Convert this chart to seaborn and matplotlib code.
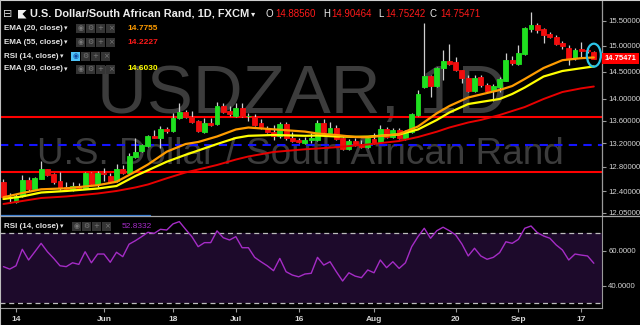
import numpy as np
import pandas as pd
import matplotlib
matplotlib.use("Agg")
import matplotlib.pyplot as plt
import matplotlib.transforms as mtransforms
from matplotlib.patches import Rectangle, Ellipse, Polygon
from matplotlib.lines import Line2D
from matplotlib.ticker import FixedLocator, NullLocator, FuncFormatter
import seaborn as sns

# ---------------- data ----------------
DATES = pd.bdate_range("2018-05-10", "2018-09-19")

OPEN = [12.553, 12.300, 12.228, 12.320, 12.580, 12.430, 12.600, 12.760, 12.675, 12.565,
        12.460, 12.417, 12.482, 12.455, 12.690, 12.510, 12.700, 12.645, 12.565, 12.768,
        12.700, 12.960, 13.070, 13.155, 13.330, 13.300, 13.446, 13.416, 13.642, 13.750,
        13.670, 13.594, 13.394, 13.553, 13.535, 13.864, 13.773, 13.683, 13.821, 13.675,
        13.671, 13.553, 13.452, 13.393, 13.334, 13.541, 13.300, 13.259, 13.212, 13.259,
        13.259, 13.553, 13.375, 13.464, 13.288, 13.098, 13.247, 13.180, 13.143, 13.270,
        13.220, 13.446, 13.316, 13.434, 13.300, 13.404, 13.700, 14.220, 14.420, 14.232,
        14.567, 14.714, 14.695, 14.535, 14.390, 14.140, 14.408, 14.251, 14.145, 14.210,
        14.330, 14.727, 14.645, 14.840, 15.335, 15.419, 15.330, 15.238, 15.185, 15.060,
        14.960, 14.760, 14.935, 14.920, 14.8856]
HIGH = [12.598, 12.370, 12.352, 12.664, 12.630, 12.630, 12.900, 12.770, 12.700, 12.720,
        12.550, 12.540, 12.530, 12.720, 12.720, 12.735, 12.775, 12.690, 12.848, 12.830,
        13.030, 13.288, 13.195, 13.346, 13.434, 13.505, 13.490, 13.732, 13.924, 13.790,
        13.780, 13.612, 13.642, 13.642, 13.943, 13.913, 13.864, 13.924, 13.924, 13.742,
        13.720, 13.625, 13.505, 13.523, 13.571, 13.571, 13.405, 13.290, 13.317, 13.388,
        13.612, 13.625, 13.582, 13.523, 13.317, 13.270, 13.288, 13.259, 13.317, 13.380,
        13.523, 13.493, 13.464, 13.464, 13.434, 13.732, 14.158, 15.453, 14.440, 14.600,
        14.921, 15.033, 14.790, 14.540, 14.440, 14.440, 14.440, 14.280, 14.270, 14.410,
        14.860, 14.800, 15.020, 15.386, 15.690, 15.453, 15.350, 15.280, 15.218, 15.100,
        15.019, 14.955, 15.085, 14.960, 14.90464]
LOW = [12.271, 12.210, 12.202, 12.304, 12.405, 12.417, 12.590, 12.650, 12.515, 12.417,
       12.417, 12.405, 12.417, 12.445, 12.498, 12.470, 12.570, 12.537, 12.553, 12.685,
       12.690, 12.945, 13.050, 13.142, 13.290, 13.115, 13.375, 13.404, 13.630, 13.642,
       13.565, 13.404, 13.376, 13.505, 13.523, 13.743, 13.683, 13.671, 13.671, 13.600,
       13.505, 13.452, 13.376, 13.259, 13.300, 13.259, 13.230, 13.200, 13.190, 13.210,
       13.247, 13.376, 13.363, 13.259, 13.086, 13.086, 13.155, 13.120, 13.115, 13.190,
       13.200, 13.294, 13.288, 13.276, 13.259, 13.376, 13.690, 14.200, 14.030, 14.220,
       14.345, 14.631, 14.516, 14.283, 14.120, 14.120, 14.220, 14.130, 13.960, 14.127,
       14.320, 14.631, 14.631, 14.824, 15.285, 15.265, 15.050, 15.150, 15.019, 14.950,
       14.631, 14.727, 14.790, 14.860, 14.75242]
CLOSE = [12.299, 12.290, 12.320, 12.581, 12.430, 12.610, 12.770, 12.660, 12.553, 12.443,
         12.430, 12.482, 12.455, 12.690, 12.510, 12.700, 12.680, 12.553, 12.768, 12.700,
         12.983, 13.057, 13.172, 13.334, 13.300, 13.452, 13.416, 13.653, 13.750, 13.670,
         13.582, 13.416, 13.553, 13.523, 13.864, 13.760, 13.714, 13.833, 13.683, 13.690,
         13.523, 13.482, 13.404, 13.334, 13.541, 13.288, 13.240, 13.230, 13.259, 13.288,
         13.553, 13.394, 13.464, 13.270, 13.098, 13.247, 13.172, 13.146, 13.288, 13.200,
         13.452, 13.316, 13.434, 13.300, 13.404, 13.713, 14.079, 14.420, 14.232, 14.567,
         14.714, 14.645, 14.535, 14.388, 14.140, 14.390, 14.251, 14.145, 14.232, 14.360,
         14.727, 14.663, 14.863, 15.353, 15.419, 15.318, 15.218, 15.185, 15.040, 14.990,
         14.740, 14.920, 14.900, 14.895, 14.75471]

RSI = [50.9, 49.5, 51.4, 60.8, 54.7, 59.4, 64.2, 59.4, 55.6, 51.4,
       50.9, 53.1, 52.2, 59.4, 53.1, 58.1, 58.1, 53.4, 59.1, 56.6,
       63.7, 65.7, 68.0, 70.5, 69.9, 72.2, 71.8, 75.3, 76.6, 72.2,
       68.0, 62.3, 64.6, 64.6, 71.3, 67.4, 66.1, 68.0, 61.7, 61.7,
       56.2, 53.7, 51.4, 48.6, 55.6, 48.0, 46.1, 45.1, 46.7, 47.1,
       56.2, 51.8, 53.7, 48.0, 42.7, 47.4, 45.5, 44.6, 49.0, 47.4,
       54.7, 50.3, 53.7, 49.9, 53.1, 62.3, 68.0, 72.8, 67.1, 71.4,
       73.4, 71.4, 69.0, 63.8, 57.0, 61.4, 57.0, 55.1, 56.2, 58.9,
       65.1, 64.2, 66.5, 72.8, 74.1, 70.3, 68.4, 67.1, 63.3, 60.4,
       54.7, 58.1, 57.5, 57.0, 52.8332]

EMA_DATES = ["2018-05-10", "2018-05-15", "2018-05-18", "2018-05-24", "2018-05-31",
             "2018-06-05", "2018-06-08", "2018-06-12", "2018-06-15", "2018-06-20",
             "2018-06-22", "2018-06-27", "2018-07-02", "2018-07-04", "2018-07-10",
             "2018-07-17", "2018-07-19", "2018-07-24", "2018-07-27", "2018-07-31",
             "2018-08-07", "2018-08-10", "2018-08-15", "2018-08-17", "2018-08-22",
             "2018-08-24", "2018-08-29", "2018-08-31", "2018-09-04", "2018-09-07",
             "2018-09-12", "2018-09-17", "2018-09-19"]
EMA20 = [12.299, 12.368, 12.428, 12.444, 12.495, 12.552, 12.719, 12.839, 13.057, 13.189,
         13.224, 13.320, 13.443, 13.478, 13.446, 13.406, 13.372, 13.346, 13.311, 13.306,
         13.363, 13.496, 13.732, 13.864, 14.020, 14.075, 14.158, 14.232, 14.364, 14.573,
         14.723, 14.762, 14.7755]
EMA30 = [12.271, 12.312, 12.376, 12.401, 12.441, 12.482, 12.647, 12.742, 12.886, 13.004,
         13.077, 13.189, 13.294, 13.332, 13.346, 13.332, 13.337, 13.320, 13.315, 13.318,
         13.355, 13.443, 13.612, 13.746, 13.900, 13.937, 13.992, 14.084, 14.204, 14.411,
         14.516, 14.569, 14.6030]
EMA55 = [12.191, 12.239, 12.287, 12.312, 12.360, 12.401, 12.458, 12.507, 12.609, 12.706,
         12.755, 12.831, 12.923, 12.975, 13.052, 13.098, 13.112, 13.134, 13.163, 13.181,
         13.241, 13.311, 13.404, 13.478, 13.567, 13.612, 13.701, 13.773, 13.845, 13.992,
         14.121, 14.189, 14.2227]

RED_LEVELS = [13.67, 12.714]
BLUE_LEVEL = 13.164
PRICE_TICKS = [12.05, 12.4, 12.8, 13.2, 13.6, 14.0, 14.5, 15.0, 15.5]
RSI_TICKS = [40, 60]
RSI_BAND = [30, 70]
TICK_DATES = ["2018-05-14", "2018-06-01", "2018-06-18", "2018-07-02", "2018-07-16",
              "2018-08-01", "2018-08-20", "2018-09-03", "2018-09-17"]
TICK_LABELS = ["14", "Jun", "18", "Jul", "16", "Aug", "20", "Sep", "17"]
TITLE = "U.S. Dollar/South African Rand, 1D, FXCM"
SYMBOL = "USDZAR, 1D"
DESCRIPTION = "U.S. Dollar / South African Rand"
OHLC_LABELS = ["O", "H", "L", "C"]
LEGEND_ROWS = ["EMA (20, close)", "EMA (55, close)", "RSI (14, close)", "EMA (30, close)"]

# ---------------- style ----------------
BG = "#000000"
GREEN = "#1fe01f"
RED = "#f20d0d"
WICK = "#cfcfcf"
ORANGE = "#ff9c00"
YELLOW = "#ffff00"
EMA_RED = "#e80000"
RSI_COL = "#a52cc6"
RSI_BG = "#1d0a2b"
AXCOL = "#9a9a9a"
TXT = "#d4d4d4"
WM = "#3c3c3c"

sns.set_style("dark", rc={"axes.facecolor": BG, "figure.facecolor": BG})
plt.rcParams["font.family"] = ["Liberation Sans", "DejaVu Sans"]

W, H = 640, 325
fig = plt.figure(figsize=(W / 100, H / 100), dpi=100)
fig.patch.set_facecolor(BG)


def fx(x):
    return x / W


def fy(y):
    return 1 - y / H


ax = fig.add_axes([0, fy(215), fx(602), fy(0) - fy(215)])
rax = fig.add_axes([0, fy(308), fx(602), fy(216) - fy(308)], sharex=ax)
for a in (ax, rax):
    a.set_facecolor(BG)
    a.grid(False)
    for s in a.spines.values():
        s.set_visible(False)

pos = np.arange(len(DATES))
O = np.array(OPEN); Hh = np.array(HIGH); L = np.array(LOW); C = np.array(CLOSE)
up = C >= O
cols = np.where(up, GREEN, RED)

ax.set_yscale("log")
ax.set_xlim(-0.55, 95.3)
ax.set_ylim(12.016, 15.933)

# watermark
ax.text(fx(302), fy(113), SYMBOL, transform=fig.transFigure, ha="center", va="baseline",
        fontsize=49.7, color=WM, zorder=0.5)
ax.text(fx(300), fy(164), DESCRIPTION, transform=fig.transFigure, ha="center", va="baseline",
        fontsize=26.6, color=WM, zorder=0.5)

# levels
for lv in RED_LEVELS:
    ax.axhline(lv, color="#ff0000", lw=1.5, zorder=1)
ax.axhline(BLUE_LEVEL, color="#1414ff", lw=1.5, ls=(0, (4, 3)), zorder=1)

# candles
ax.vlines(pos, L, Hh, color=WICK, lw=0.9, zorder=3)
ax.bar(pos, np.abs(C - O), bottom=np.minimum(O, C), width=0.78, color=cols,
       edgecolor=cols, linewidth=0.6, zorder=4)

# EMAs
ema_pos = DATES.get_indexer(pd.to_datetime(EMA_DATES))
sns.lineplot(x=ema_pos, y=EMA55, ax=ax, color=EMA_RED, lw=1.4, estimator=None, zorder=5)
sns.lineplot(x=ema_pos, y=EMA30, ax=ax, color=YELLOW, lw=1.6, estimator=None, zorder=5)
sns.lineplot(x=ema_pos, y=EMA20, ax=ax, color=ORANGE, lw=1.6, estimator=None, zorder=5)

ax.set_xlabel(""); ax.set_ylabel("")
ax.yaxis.tick_right()
ax.yaxis.set_major_locator(FixedLocator(PRICE_TICKS))
ax.yaxis.set_minor_locator(NullLocator())
ax.yaxis.set_major_formatter(FuncFormatter(lambda v, p: f"{v:.5f}"))
ax.yaxis.set_minor_formatter(FuncFormatter(lambda v, p: ""))
ax.tick_params(axis="y", which="major", right=True, left=False, length=3, width=0.8,
               color=AXCOL, labelcolor=TXT, labelsize=5.6, pad=1.5, direction="out")
ax.tick_params(axis="x", bottom=False, labelbottom=False)
ax.spines["right"].set_visible(True)
ax.spines["right"].set_color(AXCOL)
ax.spines["right"].set_linewidth(0.9)

# last price tag
blend = mtransforms.blended_transform_factory(ax.transAxes, ax.transData)
ax.text(1.004, C[-1], f"{C[-1]:.5f}", transform=blend, ha="left", va="center",
        fontsize=5.5, weight="bold", color="white", clip_on=False, zorder=10,
        bbox=dict(boxstyle="square,pad=0.3", fc="#ff0000", ec="none"))

# RSI pane
rax.axhspan(RSI_BAND[0], RSI_BAND[1], color=RSI_BG, zorder=0, lw=0)
for b in RSI_BAND:
    rax.axhline(b, color="#bdbdbd", lw=0.9, ls=(0, (4, 3)), zorder=1)
sns.lineplot(x=pos, y=RSI, ax=rax, color=RSI_COL, lw=1.0, estimator=None, zorder=3)
rax.set_xlabel(""); rax.set_ylabel("")
rax.set_ylim(27.3, 79.8)
rax.yaxis.tick_right()
rax.set_yticks(RSI_TICKS)
rax.set_yticklabels([f"{v:.4f}" for v in RSI_TICKS])
rax.tick_params(axis="y", right=True, left=False, length=3, width=0.8, color=AXCOL,
                labelcolor=TXT, labelsize=5.6, pad=1.5, direction="out")
tick_pos = DATES.get_indexer(pd.to_datetime(TICK_DATES))
rax.set_xticks(tick_pos)
rax.set_xticklabels(TICK_LABELS)
rax.tick_params(axis="x", bottom=True, length=3, width=0.8, color=AXCOL, labelcolor=TXT,
                labelsize=6.0, pad=2.5, direction="out")
for lab in rax.get_xticklabels():
    lab.set_fontweight("bold")
rax.spines["right"].set_visible(True)
rax.spines["right"].set_color(AXCOL)
rax.spines["bottom"].set_visible(True)
rax.spines["bottom"].set_color(AXCOL)
rax.set_xlim(-0.55, 95.3)

# pane separator + frame lines
fig.add_artist(Line2D([0, 1], [fy(215.8)] * 2, color="#a8a8a8", lw=0.9, transform=fig.transFigure))
fig.add_artist(Line2D([0, fx(150)], [fy(214.8)] * 2, color="#3d7fd0", lw=0.9, transform=fig.transFigure))
fig.add_artist(Line2D([0, 1], [fy(0.4)] * 2, color="#cfcfcf", lw=0.8, transform=fig.transFigure))
fig.add_artist(Line2D([fx(0.4)] * 2, [0, 1], color="#bdbdbd", lw=0.8, transform=fig.transFigure))

# highlight ellipse around the last candle
fig.canvas.draw()
cx, cy = ax.transData.transform((pos[-1], np.sqrt(O[-1] * C[-1])))
ell = Ellipse((cx, cy), 14, 23, fill=False, ec="#2cc4e8", lw=1.6,
              transform=mtransforms.IdentityTransform(), zorder=11, clip_on=False)
ax.add_patch(ell)

# ---------------- legend / header ----------------
fig.text(fx(3), fy(14), "\u229f", family="DejaVu Sans", fontsize=8, color="#d8d8d8", va="center")
fig.add_artist(Polygon([(fx(18), fy(10)), (fx(26.5), fy(10)), (fx(22.5), fy(14)),
                        (fx(26.5), fy(18.5)), (fx(18), fy(18.5))], closed=True,
                       fc="#f0f0f0", ec="none", transform=fig.transFigure))
fig.text(fx(30), fy(14), TITLE, fontsize=7.9, weight="bold", color="#ececec", va="center")
fig.text(fx(251), fy(14), "\u25be", family="DejaVu Sans", fontsize=6, color="#ececec", va="center")
ohlc_vals = [O[-1], Hh[-1], L[-1], C[-1]]
letter_x = [266, 323, 378, 430]
value_x = [275, 331, 385, 440]
for lt, lx, v, vx in zip(OHLC_LABELS, letter_x, ohlc_vals, value_x):
    fig.text(fx(lx), fy(14), lt, fontsize=7.0, color="#ececec", va="center")
    fig.text(fx(vx), fy(14), f"{v:.5f}", fontsize=7.0, color="#ff1a1a", va="center")


def icons(x0, yc, highlight=False):
    glyphs = ["\u25c9", "\u2699", "+", "\u00d7"]
    for k, g in enumerate(glyphs):
        x = x0 + k * 10
        hl = highlight and k == 0
        fig.add_artist(Rectangle((fx(x), fy(yc + 4.5)), fx(9), 9 / H, transform=fig.transFigure,
                                 fc="#4fc3f7" if hl else "#343434", ec="none"))
        fig.text(fx(x + 4.5), fy(yc), g, family="DejaVu Sans", fontsize=5,
                 color="#0d47a1" if hl else "#7a7a7a", ha="center", va="center")


row_y = [28, 42, 56, 69]
row_vals = [EMA20[-1], EMA55[-1], None, EMA30[-1]]
row_cols = [ORANGE, "#ff1a1a", None, YELLOW]
for name, yc, v, c in zip(LEGEND_ROWS, row_y, row_vals, row_cols):
    fig.text(fx(4), fy(yc), name, fontsize=5.8, weight="bold", color="#e4e4e4", va="center")
    is_rsi = name.startswith("RSI")
    fig.text(fx(60 if is_rsi else 64), fy(yc), "\u25be", family="DejaVu Sans", fontsize=5,
             color="#e4e4e4", va="center")
    icons(71 if is_rsi else 76, yc, highlight=is_rsi)
    if v is not None:
        fig.text(fx(127), fy(yc), f"{v:.4f}", fontsize=6.0, weight="bold", color=c, va="center")

# RSI pane header
fig.text(fx(4), fy(226), LEGEND_ROWS[2], fontsize=5.8, weight="bold", color="#e4e4e4", va="center")
fig.text(fx(60), fy(226), "\u25be", family="DejaVu Sans", fontsize=5, color="#e4e4e4", va="center")
icons(72, 226)
fig.text(fx(122), fy(226), f"{RSI[-1]:.4f}", fontsize=6.0, color=RSI_COL, va="center")

fig.savefig("out.png", dpi=100, facecolor=BG)
